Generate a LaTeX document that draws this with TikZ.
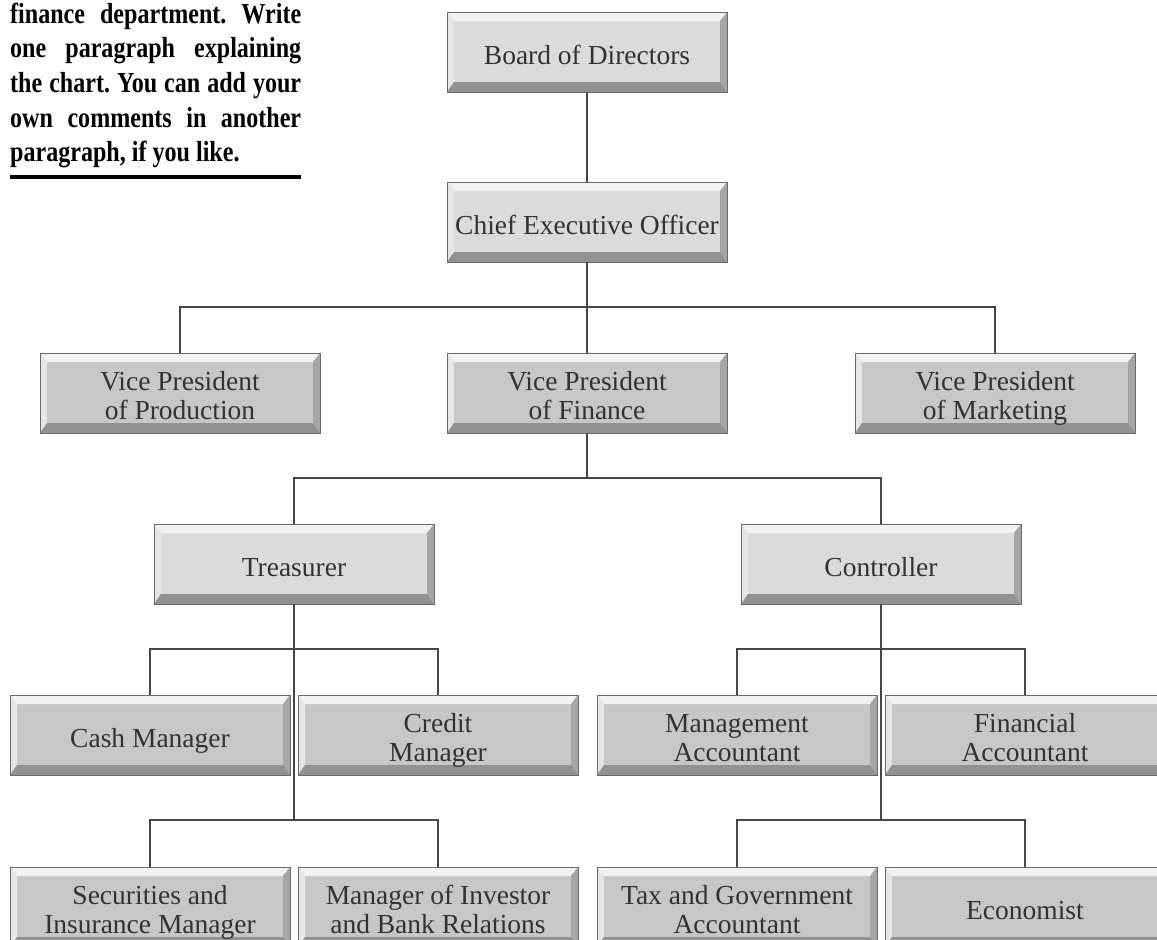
\documentclass[tikz,border=0pt]{standalone}
\usepackage{fontspec}
\setmainfont{Liberation Serif}
\newfontfamily\headfont[FakeStretch=0.83]{Liberation Serif}

\definecolor{faceLight}{RGB}{219,219,221}
\definecolor{faceDark}{RGB}{199,199,201}
\definecolor{bevTop}{RGB}{242,242,242}
\definecolor{bevLeft}{RGB}{230,230,230}
\definecolor{bevRight}{RGB}{166,166,168}
\definecolor{bevBottom}{RGB}{146,146,148}
\definecolor{boxEdge}{RGB}{105,105,105}
\definecolor{lineGray}{RGB}{70,70,70}
\definecolor{textGray}{RGB}{50,50,50}

\newcommand\boxtopstrut{\rule[-6pt]{0pt}{36pt}}
\newcommand\boxbotstrut{\rule[-6pt]{0pt}{6pt}}

\begin{document}
\begin{tikzpicture}
[x=1pt,y=-1pt,
  lineDecorate/.style={draw=lineGray,line width=1.6pt},%
  nodeDecorate/.style={shape=rectangle,draw=boxEdge,line width=0.9pt,fill=#1,
    minimum width=280pt,minimum height=80pt,inner sep=0pt,align=center,
    text=textGray,font=\fontsize{27.5}{29.5}\selectfont,
    path picture={
      \path (path picture bounding box.north west) coordinate (pnw)
            (path picture bounding box.north east) coordinate (pne)
            (path picture bounding box.south west) coordinate (psw)
            (path picture bounding box.south east) coordinate (pse);
      \fill[bevTop] (pnw) -- (pne) -- ([xshift=-7pt,yshift=-9pt]pne) -- ([xshift=7pt,yshift=-9pt]pnw) -- cycle;
      \fill[bevLeft] (pnw) -- ([xshift=7pt,yshift=-9pt]pnw) -- ([xshift=7pt,yshift=10pt]psw) -- (psw) -- cycle;
      \fill[bevRight] (pne) -- ([xshift=-7pt,yshift=-9pt]pne) -- ([xshift=-7pt,yshift=10pt]pse) -- (pse) -- cycle;
      \fill[bevBottom] (psw) -- ([xshift=7pt,yshift=10pt]psw) -- ([xshift=-7pt,yshift=10pt]pse) -- (pse) -- cycle;
    }},
  headDecorate/.style={anchor=base west,inner sep=0pt,text width=291pt,align=justify,
    font=\headfont\bfseries\fontsize{29}{34.7}\selectfont,text=black}]
\useasboundingbox (0,0) rectangle (1157,940);
\clip (0,0) rectangle (1157,940);

%% task text
\node (task) at (10,23) [headDecorate] {\frenchspacing\hyphenpenalty=10000
  finance department. Write\linebreak
  one paragraph explaining\linebreak
  the chart. You can add your\linebreak
  own comments in another\linebreak
  paragraph, if you like.};
\coordinate (ulA) at (10,177);
\coordinate (ulB) at (301,177);
\draw[line width=3.2pt] (ulA) -- (ulB);

%% bus points
\foreach \busname/\x/\y in {busA/587/307, busB/587/478, busC/294/649, busD/294/820, busE/881/649, busF/881/820}
{
  \coordinate (\busname) at (\x,\y);
}

%% nodes or boxes
\foreach \nodename/\x/\y/\tone/\label in {
  board/587/52/faceLight/Board of Directors,
  ceo/587/222/faceLight/Chief Executive Officer,
  vpprod/180/393/faceDark/Vice President\\of Production,
  vpfin/587/393/faceDark/Vice President\\of Finance,
  vpmkt/995/393/faceDark/Vice President\\of Marketing,
  treas/294/564/faceLight/Treasurer,
  ctrl/881/564/faceLight/Controller,
  cash/150/735/faceDark/Cash Manager,
  credit/438/735/faceDark/Credit\\Manager,
  mgmtacc/737/735/faceDark/Management\\Accountant,
  finacc/1025/735/faceDark/Financial\\Accountant,
  secur/150/907/faceDark/Securities and\\Insurance Manager,
  invest/438/907/faceDark/Manager of Investor\\and Bank Relations,
  tax/737/907/faceDark/Tax and Government\\Accountant,
  econ/1025/907/faceDark/Economist}
{
  \node (\nodename) at (\x,\y) [nodeDecorate=\tone] {\boxtopstrut\label\boxbotstrut};
}

%% edges or lines
\path[lineDecorate]
  (board.south) -- (ceo.north)
  (ceo.south) -- (vpfin.north)
  (vpprod.north) |- (busA) -| (vpmkt.north)
  (vpfin.south) -- (busB)
  (treas.north) |- (busB) -| (ctrl.north)
  (treas.south) -- (busD)
  (cash.north) |- (busC) -| (credit.north)
  (secur.north) |- (busD) -| (invest.north)
  (ctrl.south) -- (busF)
  (mgmtacc.north) |- (busE) -| (finacc.north)
  (tax.north) |- (busF) -| (econ.north);
\end{tikzpicture}
\end{document}
